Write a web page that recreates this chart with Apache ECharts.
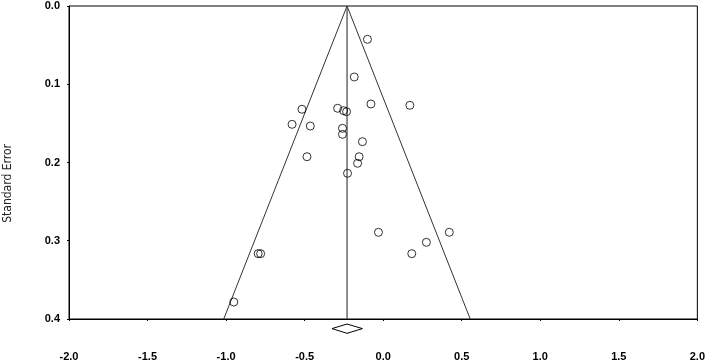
<!DOCTYPE html>
<html>
<head>
<meta charset="utf-8">
<script src="https://cdn.jsdelivr.net/npm/echarts@6/dist/echarts.min.js"></script>
<style>
html,body{margin:0;padding:0;background:#fff;}
#chart{width:708px;height:364px;}
</style>
</head>
<body>
<div id="chart"></div>
<script>
// Study effect sizes (x) and standard errors (y)
var effects = [-0.100, -0.184, -0.078, 0.170, -0.517, -0.290, -0.252, -0.233, -0.580, -0.464, -0.259, -0.259, -0.132, -0.485, -0.153, -0.163, -0.227, -0.030, 0.421, 0.275, 0.182, -0.796, -0.780, -0.951];
var stdErrors = [0.0426, 0.0907, 0.1252, 0.1269, 0.1320, 0.1307, 0.1338, 0.1351, 0.1512, 0.1534, 0.1563, 0.1640, 0.1734, 0.1926, 0.1926, 0.2010, 0.2138, 0.2892, 0.2892, 0.3020, 0.3165, 0.3165, 0.3165, 0.3783];
// Funnel (pseudo 95% limits)
var funnelX = [-1.015, -0.230, 0.554];
var funnelY = [0.4, 0.0, 0.4];
// Overall estimate line
var meanX = [-0.230, -0.230];
var meanY = [0.0, 0.4];
// Summary diamond
var diamondX = [-0.326, -0.230, -0.132, -0.230, -0.326];
var diamondY = [0.4123, 0.4064, 0.4123, 0.4183, 0.4123];
// Axis ticks
var xTicks = [-2.0, -1.5, -1.0, -0.5, 0.0, 0.5, 1.0, 1.5, 2.0];
var yTicks = [0.0, 0.1, 0.2, 0.3, 0.4];

function zip(a, b) { return a.map(function (v, i) { return [v, b[i]]; }); }

var chart = echarts.init(document.getElementById('chart'), null, {renderer: 'canvas'});
var labelStyle = {color: '#000', fontWeight: 'bold', fontSize: 11, fontFamily: 'Liberation Sans, Arial, sans-serif'};
chart.setOption({
  animation: false,
  backgroundColor: '#fff',
  grid: {left: 69, right: 10, top: 6, bottom: 45, show: true, borderColor: '#000', borderWidth: 1},
  xAxis: {
    type: 'value', min: xTicks[0], max: xTicks[xTicks.length - 1], interval: 0.5,
    axisLine: {show: true, onZero: false, lineStyle: {color: '#000', width: 1}},
    axisTick: {show: true, length: 2, lineStyle: {color: '#000'}},
    splitLine: {show: false},
    axisLabel: Object.assign({margin: 32, formatter: function (v) { return v.toFixed(1); }}, labelStyle)
  },
  yAxis: {
    type: 'value', inverse: true, min: yTicks[0], max: yTicks[yTicks.length - 1], interval: 0.1,
    axisLine: {show: true, onZero: false, lineStyle: {color: '#000', width: 1}},
    axisTick: {show: true, length: 2, lineStyle: {color: '#000'}},
    splitLine: {show: false},
    axisLabel: Object.assign({margin: 9, formatter: function (v) { return v.toFixed(1); }}, labelStyle)
  },
  graphic: [{
    type: 'text', left: 2, top: 144, rotation: Math.PI / 2,
    style: {text: 'Standard Error', fill: '#222', font: '12px "DejaVu Sans Condensed", "Liberation Sans", sans-serif'},
    z: 10
  }],
  series: [
    {
      type: 'line', data: zip(funnelX, funnelY), symbol: 'none', clip: false,
      lineStyle: {color: '#333', width: 1}, z: 2
    },
    {
      type: 'line', data: zip(meanX, meanY), symbol: 'none',
      lineStyle: {color: '#444', width: 1.2}, z: 2
    },
    {
      type: 'line', data: zip(diamondX, diamondY), symbol: 'none', clip: false,
      lineStyle: {color: '#000', width: 1}, z: 3
    },
    {
      type: 'scatter', data: zip(effects, stdErrors), symbol: 'circle', symbolSize: 8,
      itemStyle: {color: 'rgba(255,255,255,0)', borderColor: '#000', borderWidth: 1}, z: 4
    }
  ]
});
</script>
</body>
</html>
